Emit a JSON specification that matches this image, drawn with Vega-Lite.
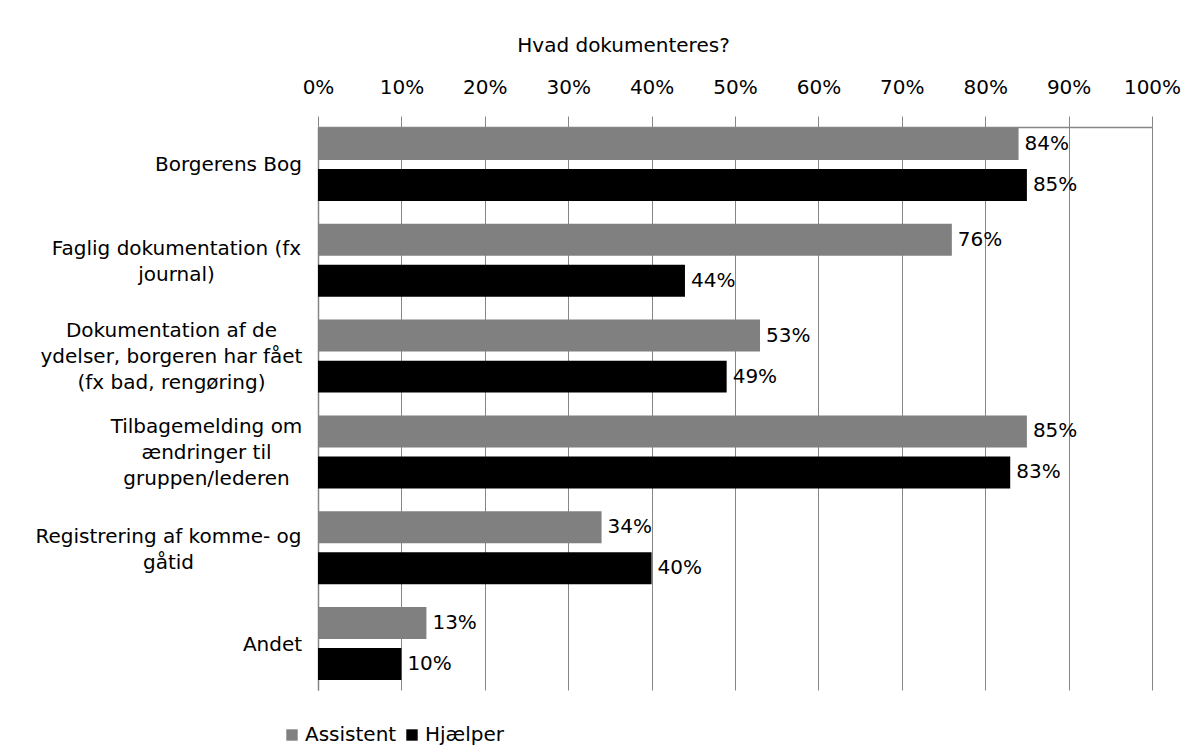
{
  "$schema": "https://vega.github.io/schema/vega-lite/v6.json",
  "width": 834,
  "height": 563,
  "autosize": {"type": "none"},
  "padding": {"left": 318, "top": 127, "right": 51, "bottom": 66},
  "background": "white",
  "config": {"view": {"stroke": null}, "font": "DejaVu Sans"},
  "data": {
    "values": [
      {"kategori": "Borgerens Bog", "gruppe": "Assistent", "andel": 0.84},
      {"kategori": "Borgerens Bog", "gruppe": "Hjælper", "andel": 0.85},
      {"kategori": "Faglig dokumentation (fx|journal)", "gruppe": "Assistent", "andel": 0.76},
      {"kategori": "Faglig dokumentation (fx|journal)", "gruppe": "Hjælper", "andel": 0.44},
      {"kategori": "Dokumentation af de|ydelser, borgeren har fået|(fx bad, rengøring)", "gruppe": "Assistent", "andel": 0.53},
      {"kategori": "Dokumentation af de|ydelser, borgeren har fået|(fx bad, rengøring)", "gruppe": "Hjælper", "andel": 0.49},
      {"kategori": "Tilbagemelding om|ændringer til|gruppen/lederen", "gruppe": "Assistent", "andel": 0.85},
      {"kategori": "Tilbagemelding om|ændringer til|gruppen/lederen", "gruppe": "Hjælper", "andel": 0.83},
      {"kategori": "Registrering af komme- og|gåtid", "gruppe": "Assistent", "andel": 0.34},
      {"kategori": "Registrering af komme- og|gåtid", "gruppe": "Hjælper", "andel": 0.40},
      {"kategori": "Andet", "gruppe": "Assistent", "andel": 0.13},
      {"kategori": "Andet", "gruppe": "Hjælper", "andel": 0.10}
    ]
  },
  "encoding": {
    "y": {
      "field": "kategori",
      "type": "nominal",
      "sort": null,
      "scale": {"paddingInner": 0.238, "paddingOuter": 0.057, "align": 0.09},
      "axis": {
        "title": null,
        "ticks": false,
        "tickSize": 0,
        "domainColor": "#868686",
        "domainWidth": 1.5,
        "labelFont": "DejaVu Sans",
        "labelFontSize": 20,
        "labelColor": "black",
        "labelAlign": "center",
        "labelBaseline": "middle",
        "labelLineHeight": 26,
        "labelLimit": 500,
        "labelExpr": "split(datum.label, '|')",
        "labelPadding": {
          "condition": [
            {"test": "test(/^Borgerens/, datum.value)", "value": 90},
            {"test": "test(/^Faglig/, datum.value)", "value": 142},
            {"test": "test(/^Dokumentation/, datum.value)", "value": 147},
            {"test": "test(/^Tilbagemelding/, datum.value)", "value": 112},
            {"test": "test(/^Registrering/, datum.value)", "value": 150}
          ],
          "value": 46
        },
        "labelOffset": {
          "condition": [
            {"test": "test(/^Faglig/, datum.value)", "value": -11},
            {"test": "test(/^Dokumentation/, datum.value)", "value": -25},
            {"test": "test(/^Tilbagemelding/, datum.value)", "value": -25},
            {"test": "test(/^Registrering/, datum.value)", "value": -11}
          ],
          "value": 1
        }
      }
    },
    "yOffset": {
      "field": "gruppe",
      "type": "nominal",
      "sort": ["Assistent", "Hjælper"],
      "scale": {"paddingInner": 0.22, "paddingOuter": 0}
    },
    "x": {
      "field": "andel",
      "type": "quantitative",
      "scale": {"domain": [0, 1], "nice": false},
      "axis": {
        "orient": "top",
        "format": "%",
        "values": [0, 0.1, 0.2, 0.3, 0.4, 0.5, 0.6, 0.7, 0.8, 0.9, 1],
        "grid": true,
        "gridColor": "#868686",
        "gridWidth": 1,
        "ticks": true,
        "tickColor": "#868686",
        "tickWidth": 1,
        "tickSize": 11,
        "domainColor": "#868686",
        "domainWidth": 1.5,
        "labelFont": "DejaVu Sans",
        "labelFontSize": 20,
        "labelColor": "black",
        "labelPadding": 19,
        "labelFlush": false,
        "labelOverlap": false,
        "title": "Hvad dokumenteres?",
        "titleFont": "DejaVu Sans",
        "titleFontSize": 20,
        "titleFontWeight": "normal",
        "titleColor": "black",
        "titleX": 305,
        "titleY": -82,
        "titleAlign": "center",
        "titleBaseline": "middle"
      }
    }
  },
  "layer": [
    {
      "mark": {"type": "bar"},
      "encoding": {
        "color": {
          "field": "gruppe",
          "type": "nominal",
          "sort": ["Assistent", "Hjælper"],
          "scale": {"domain": ["Assistent", "Hjælper"], "range": ["#808080", "#000000"]},
          "legend": {
            "orient": "none",
            "legendX": -36,
            "legendY": 598,
            "direction": "horizontal",
            "title": null,
            "padding": 0,
            "symbolType": "square",
            "symbolSize": 130,
            "symbolStrokeWidth": 0,
            "labelFont": "DejaVu Sans",
            "labelFontSize": 20,
            "labelColor": "black",
            "labelOffset": 3,
            "columnPadding": 5
          }
        }
      }
    },
    {
      "mark": {"type": "text", "align": "left", "baseline": "middle", "dx": 6, "fontSize": 20, "font": "DejaVu Sans", "color": "black"},
      "encoding": {
        "text": {"field": "andel", "type": "quantitative", "format": ".0%"}
      }
    }
  ]
}
